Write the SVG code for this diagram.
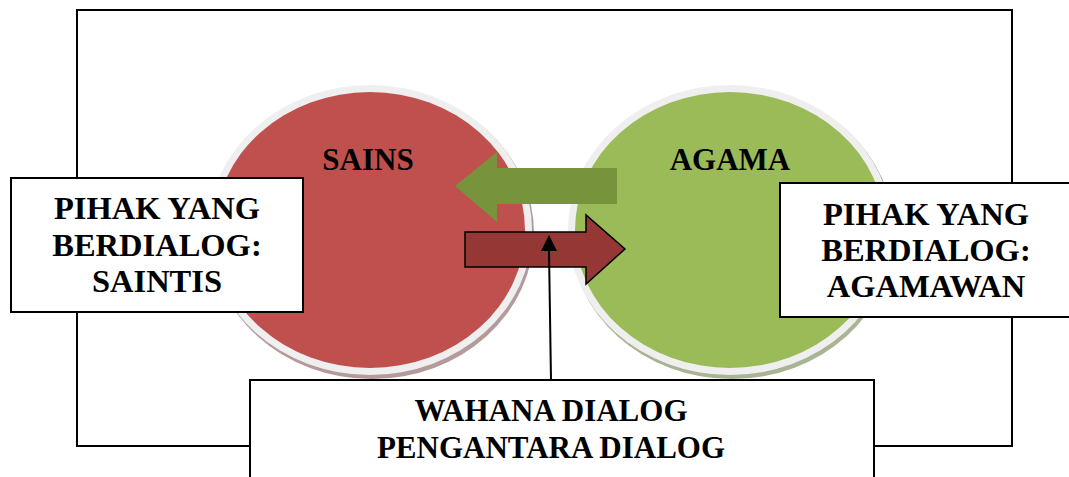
<svg xmlns="http://www.w3.org/2000/svg" width="1069" height="477" viewBox="0 0 1069 477">
<defs>
<style>
.lbl{font-family:"Liberation Serif","Times New Roman",serif;font-weight:bold;font-size:31px;fill:#000;text-anchor:middle}
.side{font-size:32.5px}
.box{fill:#fff;stroke:#000;stroke-width:2}
.ring{fill:#efefef}
</style>
</defs>
<rect width="1069" height="477" fill="#fff"/>
<rect id="frame" x="77" y="10" width="935" height="436" fill="none" stroke="#000" stroke-width="2"/>

<g id="sains">
<ellipse cx="372" cy="233" rx="162" ry="146" fill="#b49a9a"/>
<ellipse class="ring" cx="370" cy="230" rx="162" ry="145"/>
<ellipse cx="370" cy="230" rx="155" ry="138" fill="#c0504d"/>
<text class="lbl" x="368" y="170">SAINS</text>
</g>
<g id="agama">
<ellipse cx="732" cy="233" rx="162" ry="146" fill="#a8b494"/>
<ellipse class="ring" cx="730" cy="230" rx="162" ry="145"/>
<ellipse cx="730" cy="230" rx="155" ry="138" fill="#9bbb59"/>
<text class="lbl" x="730" y="170">AGAMA</text>
</g>

<g id="arrow-green">
<path d="M617 168 L497 168 L497 152 L455 186 L497 222 L497 204 L617 204 Z" fill="#77933c"/>
</g>
<g id="arrow-red">
<path d="M465 232 L586 232 L586 215 L625 249 L586 284 L586 267 L465 267 Z" fill="#953735" stroke="#000" stroke-width="1.5" stroke-linejoin="miter"/>
</g>

<g id="box-saintis">
<rect class="box" x="11" y="178" width="292" height="134"/>
<text class="lbl side" x="157"><tspan x="157" y="219">PIHAK YANG</tspan><tspan x="157" y="256">BERDIALOG:</tspan><tspan x="157" y="292">SAINTIS</tspan></text>
</g>
<g id="box-agamawan">
<rect class="box" x="780" y="183" width="295" height="134"/>
<text class="lbl side" x="926"><tspan x="926" y="225">PIHAK YANG</tspan><tspan x="926" y="261">BERDIALOG:</tspan><tspan x="926" y="297">AGAMAWAN</tspan></text>
</g>
<g id="box-wahana">
<rect class="box" x="250" y="380" width="624" height="120"/>
<text class="lbl" x="551"><tspan x="551" y="421">WAHANA DIALOG</tspan><tspan x="551" y="458">PENGANTARA DIALOG</tspan></text>
</g>

<g id="connectors">
<path d="M551 380 L549 251" fill="none" stroke="#000" stroke-width="2"/>
<path d="M549 235 L557 251 L541 251 Z" fill="#000"/>
</g>
</svg>
